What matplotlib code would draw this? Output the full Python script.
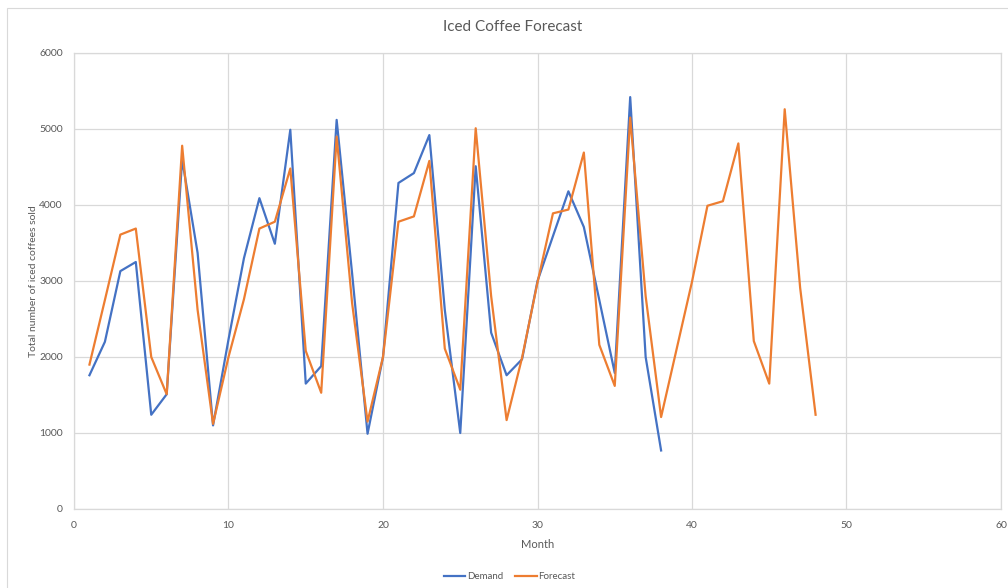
import numpy as np
import matplotlib.pyplot as plt
from matplotlib.patches import Rectangle

plt.rcParams['font.family'] = ['Lato', 'DejaVu Sans']

# Monthly demand (months 1-38) and forecast (months 1-48)
demand_months = np.arange(1, 39)
demand = [1760, 2200, 3130, 3250, 1240, 1510, 4600, 3370, 1100, 2230,
          3300, 4090, 3490, 4990, 1650, 1880, 5120, 3100, 990, 2000,
          4290, 4420, 4920, 2620, 1000, 4510, 2320, 1760, 1970, 3000,
          3590, 4180, 3710, 2750, 1790, 5420, 2000, 770]

forecast_months = np.arange(1, 49)
forecast = [1900, 2750, 3610, 3690, 2000, 1510, 4780, 2620, 1120, 2000,
            2760, 3690, 3780, 4480, 2080, 1530, 4900, 2710, 1150, 2000,
            3780, 3850, 4580, 2110, 1570, 5010, 2800, 1170, 1990, 2980,
            3890, 3940, 4690, 2160, 1620, 5150, 2800, 1210, 2100, 2990,
            3990, 4050, 4810, 2210, 1650, 5260, 2910, 1240]

grey = '#d9d9d9'
text_col = '#595959'

fig = plt.figure(figsize=(10.08, 5.88), dpi=100)
fig.patches.append(Rectangle((7 / 1008, -0.1), 1.2, 1.1 - 8 / 588,
                             transform=fig.transFigure, fill=False,
                             edgecolor=grey, linewidth=0.8))

ax = fig.add_axes([74 / 1008, 1 - 509 / 588, 927 / 1008, 456 / 588])

ax.plot(demand_months, demand, color='#4472C4', linewidth=1.6, label='Demand')
ax.plot(forecast_months, forecast, color='#ED7D31', linewidth=1.6, label='Forecast')

ax.set_xlim(0, 60)
ax.set_ylim(0, 6000)
ax.set_xticks(range(0, 61, 10))
ax.set_yticks(range(0, 6001, 1000))
ax.grid(True, color=grey, linewidth=0.9)
ax.set_axisbelow(True)
for s in ax.spines.values():
    s.set_color(grey)
    s.set_linewidth(0.9)
ax.tick_params(length=0, labelsize=7.5, labelcolor=text_col)
ax.tick_params(axis='y', pad=8)
ax.tick_params(axis='x', pad=9)

fig.text(513 / 1008, 1 - 27 / 588, 'Iced Coffee Forecast', fontsize=11,
         color=text_col, ha='center', va='center')
ax.set_xlabel('Month', fontsize=8, color=text_col, labelpad=6)
ax.set_ylabel('Total number of iced coffees sold', fontsize=7.5, color=text_col, labelpad=1)

ax.legend(loc='upper center', bbox_to_anchor=(0.47, -0.12), ncol=2, frameon=False,
          fontsize=7, labelcolor=text_col, handlelength=2.2, handletextpad=0.2,
          columnspacing=1.2)

fig.savefig('out.png', dpi=100)
